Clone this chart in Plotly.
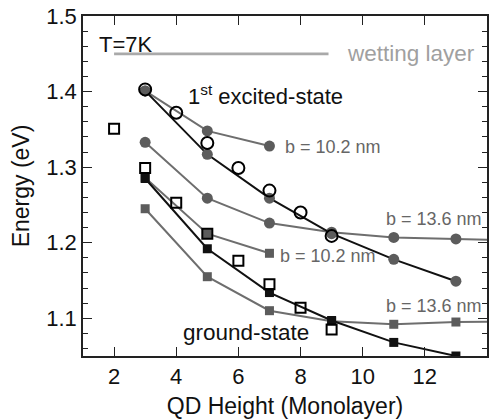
import plotly.graph_objects as go

# Measured transition energies (eV) vs. quantum-dot height (monolayers)
h_exc_meas = [3, 4, 5, 6, 7, 8, 9]
e_exc_meas = [1.403, 1.372, 1.332, 1.299, 1.269, 1.240, 1.209]

h_gnd_meas = [2, 3, 4, 5, 6, 7, 8, 9]
e_gnd_meas = [1.351, 1.299, 1.253, 1.212, 1.176, 1.145, 1.114, 1.085]

# Calculated energies: isolated dot (black) and finite base width b (grey)
h_calc = [3, 5, 7, 9, 11, 13]
e_exc_calc = [1.401, 1.317, 1.259, 1.212, 1.178, 1.149]
e_gnd_calc = [1.285, 1.192, 1.134, 1.097, 1.068, 1.050]

h_b102 = [3, 5, 7]
e_exc_b102 = [1.401, 1.348, 1.328]
e_gnd_b102 = [1.286, 1.212, 1.186]

h_b136 = [3, 5, 7, 9, 11, 13, 15]
e_exc_b136 = [1.333, 1.259, 1.226, 1.214, 1.207, 1.205, 1.203]
e_gnd_b136 = [1.245, 1.155, 1.110, 1.096, 1.092, 1.095, 1.096]

# Wetting-layer level
wl_h = [2, 8.9]
wl_e = [1.45, 1.45]

x_ticks = [2, 4, 6, 8, 10, 12]
y_ticks = [1.1, 1.2, 1.3, 1.4, 1.5]

FONT = "Liberation Sans, Arial, sans-serif"
GREY_LINE = "#6e6e6e"
GREY_MARK = "#5c5c5c"

fig = go.Figure()

fig.add_trace(go.Scatter(x=wl_h, y=wl_e, mode="lines",
                         line=dict(color="#a9a9a9", width=2.6)))

for h, e, sym in [(h_b102, e_exc_b102, "circle"), (h_b136, e_exc_b136, "circle"),
                  (h_b102, e_gnd_b102, "square"), (h_b136, e_gnd_b136, "square")]:
    fig.add_trace(go.Scatter(x=h, y=e, mode="lines+markers",
                             line=dict(color=GREY_LINE, width=2),
                             marker=dict(symbol=sym, color=GREY_MARK,
                                         size=11 if sym == "circle" else 9)))

fig.add_trace(go.Scatter(x=h_calc, y=e_exc_calc, mode="lines+markers",
                         line=dict(color="#111111", width=2),
                         marker=dict(symbol="circle", color=GREY_MARK, size=11)))
fig.add_trace(go.Scatter(x=h_calc, y=e_gnd_calc, mode="lines+markers",
                         line=dict(color="#111111", width=2),
                         marker=dict(symbol="square", color="#111111", size=9)))

fig.add_trace(go.Scatter(x=h_exc_meas, y=e_exc_meas, mode="markers",
                         marker=dict(symbol="circle-open", color="#000000", size=12,
                                     line=dict(width=2))))
fig.add_trace(go.Scatter(x=h_gnd_meas, y=e_gnd_meas, mode="markers",
                         marker=dict(symbol="square-open", color="#000000", size=10,
                                     line=dict(width=2))))

notes = [
    ("T=7K", 1.45, 1.463, "#111111", 22),
    ("wetting layer", 9.42, 1.451, "#a0a0a0", 22.5),
    ("1<sup>st</sup> excited-state", 4.32, 1.396, "#111111", 22),
    ("b = 10.2 nm", 7.42, 1.327, "#666666", 18),
    ("b = 13.6 nm", 10.70, 1.232, "#666666", 18),
    ("b = 10.2 nm", 7.29, 1.182, "#666666", 18),
    ("b = 13.6 nm", 10.70, 1.116, "#666666", 18),
    ("ground-state", 4.16, 1.081, "#111111", 22.5),
]
for text, x, y, col, sz in notes:
    fig.add_annotation(x=x, y=y, xref="x", yref="y", text=text, showarrow=False,
                       xanchor="left", yanchor="middle",
                       font=dict(family=FONT, size=sz, color=col))

axis_common = dict(showline=True, linecolor="#222222", linewidth=1.5, mirror="ticks",
                   ticks="inside", ticklen=9, tickwidth=1.3, tickcolor="#222222",
                   showgrid=False, zeroline=False,
                   tickfont=dict(family=FONT, size=22, color="#111111"))

fig.update_xaxes(range=[1, 14], tickvals=x_ticks,
                 title=dict(text="QD Height (Monolayer)",
                            font=dict(family=FONT, size=23, color="#111111"), standoff=10),
                 **axis_common)
fig.update_yaxes(range=[1.05, 1.5002], tickvals=y_ticks, tickformat=".1f",
                 minor=dict(dtick=0.02, tick0=1.0, ticks="inside", ticklen=5,
                            tickcolor="#222222", tickwidth=1.2),
                 title=dict(text="Energy (eV)",
                            font=dict(family=FONT, size=23, color="#111111"), standoff=10),
                 **axis_common)

fig.update_layout(width=491, height=419, showlegend=False,
                  margin=dict(l=83, r=2, t=16, b=63),
                  plot_bgcolor="white", paper_bgcolor="white")

fig.write_html("out.html")
